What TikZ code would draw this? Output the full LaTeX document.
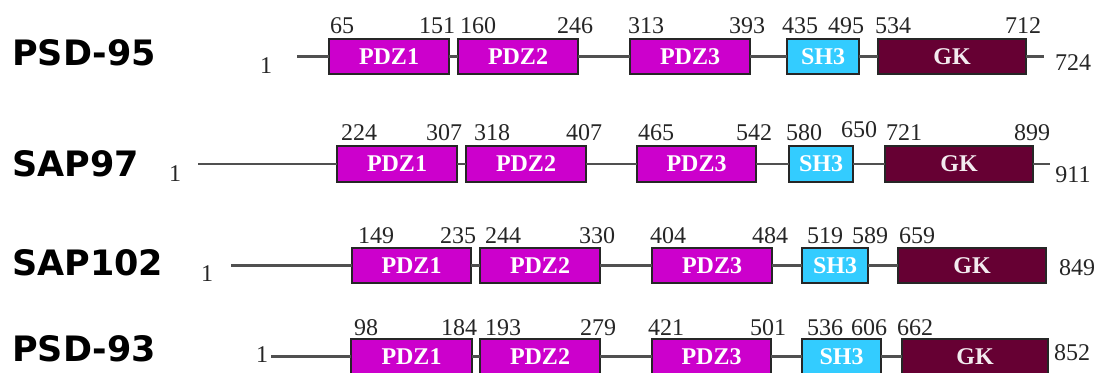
\documentclass[tikz,border=0pt]{standalone}
\usepackage{fontspec}
\setmainfont{Liberation Serif}
\newfontfamily\namefont{DejaVu Sans}
\definecolor{pdzc}{HTML}{CC00CC}
\definecolor{shc}{HTML}{33CCFF}
\definecolor{gkc}{HTML}{660033}
\definecolor{linec}{HTML}{505050}
\tikzset{
  dom/.style={draw=black!85, line width=1.3pt, inner sep=0pt, outer sep=0pt,
    font=\fontsize{24}{24}\selectfont\bfseries, text=white},
  pdz/.style={dom, fill=pdzc},
  sh/.style={dom, fill=shc},
  gk/.style={dom, fill=gkc, text=white!92!gkc},
  bb/.style={draw=linec, line width=2.2pt},
  num/.style={font=\fontsize{24}{24}\selectfont, inner sep=0pt, text=black!85},
  pname/.style={font=\namefont\fontsize{35}{35}\selectfont\bfseries, inner sep=0pt, anchor=west},
}
\newcommand\mydom[7]{\node[#1, minimum width={#4-#3}, minimum height={#6-#5}] (#2) at ({(#3+#4)/2},{(#5+#6)/2}) {#7};}
\newcommand\numlab[4]{\node[num] (#1-#4) at (#2,#3) {#4};}
\begin{document}
\begin{tikzpicture}[x=1pt,y=-1pt]
\useasboundingbox (0,0) rectangle (1102,372);
\clip (0,0) rectangle (1102,372);
\fill[white] (0,0) rectangle (1102,372);

% ---------- row names
\node[pname] (nA) at (12,53) {PSD-95};
\node[pname] (nB) at (12,164) {SAP97};
\node[pname] (nC) at (12,263) {SAP102};
\node[pname] (nD) at (12,349) {PSD-93};

% ---------- row 1: PSD-95
\mydom{pdz}{aP1}{329}{449}{39}{74}{PDZ1}
\mydom{pdz}{aP2}{458}{578}{39}{74}{PDZ2}
\mydom{pdz}{aP3}{630}{750}{39}{74}{PDZ3}
\mydom{sh}{aS}{787}{859}{39}{74}{SH3}
\mydom{gk}{aG}{878}{1026}{39}{74}{GK}
\coordinate (aB) at (297,56.5);
\coordinate (aE) at (1044,56.5);
\draw[bb] (aB) -- (aP1.west);
\draw[bb] (aP1.east) -- (aP2.west);
\draw[bb] (aP2.east) -- (aP3.west);
\draw[bb] (aP3.east) -- (aS.west);
\draw[bb] (aS.east) -- (aG.west);
\draw[bb] (aG.east) -- (aE);
\numlab{a}{266}{66}{1}
\numlab{a}{1073}{63}{724}
\numlab{a}{342}{26}{65}
\numlab{a}{437}{26}{151}
\numlab{a}{478}{26}{160}
\numlab{a}{575}{26}{246}
\numlab{a}{646}{26}{313}
\numlab{a}{747}{26}{393}
\numlab{a}{800}{26}{435}
\numlab{a}{846}{26}{495}
\numlab{a}{893}{26}{534}
\numlab{a}{1023}{26}{712}

% ---------- row 2: SAP97
\mydom{pdz}{bP1}{337}{457}{146}{182}{PDZ1}
\mydom{pdz}{bP2}{466}{586}{146}{182}{PDZ2}
\mydom{pdz}{bP3}{637}{756}{146}{182}{PDZ3}
\mydom{sh}{bS}{789}{853}{146}{182}{SH3}
\mydom{gk}{bG}{885}{1033}{146}{182}{GK}
\coordinate (bB) at (198,164);
\coordinate (bE) at (1050,164);
\draw[bb] (bB) -- (bP1.west);
\draw[bb] (bP1.east) -- (bP2.west);
\draw[bb] (bP2.east) -- (bP3.west);
\draw[bb] (bP3.east) -- (bS.west);
\draw[bb] (bS.east) -- (bG.west);
\draw[bb] (bG.east) -- (bE);
\numlab{b}{175}{174}{1}
\numlab{b}{1073}{175}{911}
\numlab{b}{359}{133}{224}
\numlab{b}{444}{133}{307}
\numlab{b}{492}{133}{318}
\numlab{b}{584}{133}{407}
\numlab{b}{656}{133}{465}
\numlab{b}{754}{133}{542}
\numlab{b}{804}{133}{580}
\numlab{b}{859}{130}{650}
\numlab{b}{904}{133}{721}
\numlab{b}{1032}{133}{899}

% ---------- row 3: SAP102
\mydom{pdz}{cP1}{352}{471}{248}{283}{PDZ1}
\mydom{pdz}{cP2}{480}{600}{248}{283}{PDZ2}
\mydom{pdz}{cP3}{652}{772}{248}{283}{PDZ3}
\mydom{sh}{cS}{802}{868}{248}{283}{SH3}
\mydom{gk}{cG}{898}{1046}{248}{283}{GK}
\coordinate (cB) at (231,265.5);
\draw[bb] (cB) -- (cP1.west);
\draw[bb] (cP1.east) -- (cP2.west);
\draw[bb] (cP2.east) -- (cP3.west);
\draw[bb] (cP3.east) -- (cS.west);
\draw[bb] (cS.east) -- (cG.west);
\numlab{c}{207}{274}{1}
\numlab{c}{1077}{268}{849}
\numlab{c}{376}{236}{149}
\numlab{c}{458}{236}{235}
\numlab{c}{503}{236}{244}
\numlab{c}{597}{236}{330}
\numlab{c}{668}{236}{404}
\numlab{c}{770}{236}{484}
\numlab{c}{825}{236}{519}
\numlab{c}{870}{236}{589}
\numlab{c}{917}{236}{659}

% ---------- row 4: PSD-93
\mydom{pdz}{dP1}{351}{472}{339}{374}{PDZ1}
\mydom{pdz}{dP2}{480}{600}{339}{374}{PDZ2}
\mydom{pdz}{dP3}{652}{771}{339}{374}{PDZ3}
\mydom{sh}{dS}{802}{881}{339}{374}{SH3}
\mydom{gk}{dG}{902}{1048}{339}{374}{GK}
\coordinate (dB) at (271,356.5);
\draw[bb] (dB) -- (dP1.west);
\draw[bb] (dP1.east) -- (dP2.west);
\draw[bb] (dP2.east) -- (dP3.west);
\draw[bb] (dP3.east) -- (dS.west);
\draw[bb] (dS.east) -- (dG.west);
\numlab{d}{262}{355}{1}
\numlab{d}{1072}{353}{852}
\numlab{d}{366}{328}{98}
\numlab{d}{459}{328}{184}
\numlab{d}{503}{328}{193}
\numlab{d}{598}{328}{279}
\numlab{d}{666}{328}{421}
\numlab{d}{768}{328}{501}
\numlab{d}{825}{328}{536}
\numlab{d}{869}{328}{606}
\numlab{d}{915}{328}{662}
\end{tikzpicture}
\end{document}
